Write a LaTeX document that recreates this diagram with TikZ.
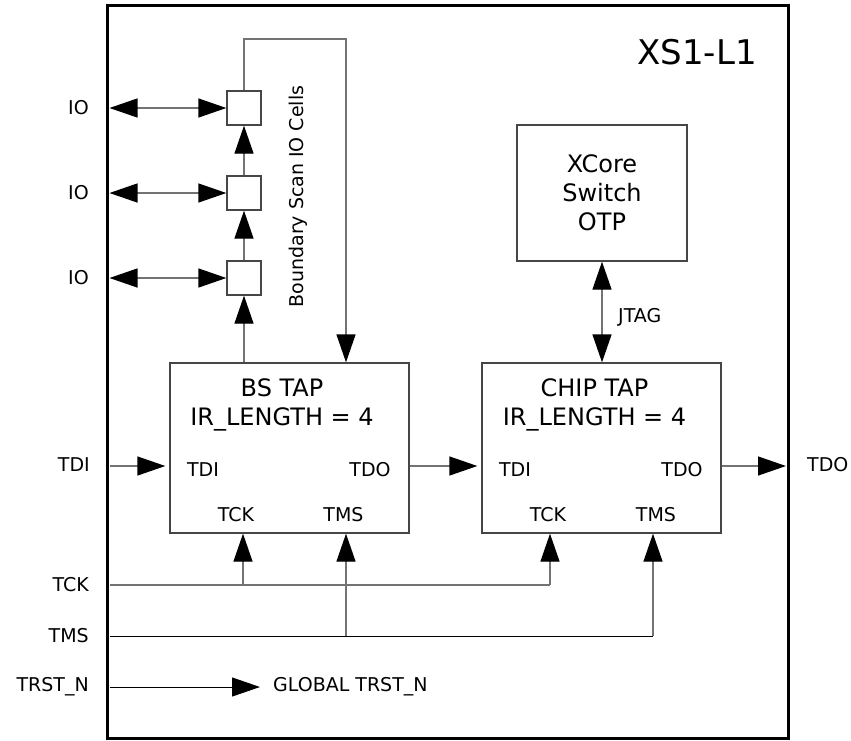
\documentclass[tikz,border=0pt]{standalone}
\usepackage{fontspec}
\setmainfont{DejaVu Sans}
\usetikzlibrary{arrows.meta}
\definecolor{linegray}{RGB}{115,115,115}
\definecolor{boxgray}{RGB}{70,70,70}
\begin{document}
\begin{tikzpicture}[x=1pt,y=-1pt,
  >={Triangle[length=28pt,width=19pt,color=black]},
  conn/.style={draw=linegray, line width=1.3pt},
  dark/.style={draw=black, line width=1pt},
  box/.style={draw=boxgray, line width=1.3pt, fill=white, inner sep=0},
  cell/.style={box, minimum size=34pt},
  lbl/.style={font=\fontsize{19}{23}\selectfont, inner sep=0},
  titletext/.style={font=\fontsize{24}{29}\selectfont, align=center, inner sep=0}]
\useasboundingbox (0,0) rectangle (851,740);
% outer chip
\node[draw, line width=3pt, minimum width=681pt, minimum height=733pt, inner sep=0] (chip) at (447.5,371.5) {};
\node[anchor=east, inner sep=0, font=\fontsize{34}{40}\selectfont] (name) at (757,52.5) {XS1-L1};
% boxes
\node[box, minimum width=239pt, minimum height=170pt] (bs) at (289.5,448) {};
\node[box, minimum width=239pt, minimum height=170pt] (ct) at (601.5,448) {};
\node[box, minimum width=170pt, minimum height=136pt, align=center, font=\fontsize{24}{29}\selectfont] (xc) at (602,193) {XCore\\Switch\\OTP};
\node[titletext, anchor=north] (bst) at (282,378) {BS TAP\\IR\_LENGTH = 4};
\node[titletext, anchor=north] (ctt) at (594.5,378) {CHIP TAP\\IR\_LENGTH = 4};
% port labels inside boxes
\node[lbl] (bstdi) at (203,470) {TDI};
\node[lbl] (bstdo) at (370,470) {TDO};
\node[lbl] (bstck) at (236,515) {TCK};
\node[lbl] (bstms) at (343.5,515) {TMS};
\node[lbl] (cttdi) at (515,470) {TDI};
\node[lbl] (cttdo) at (682,470) {TDO};
\node[lbl] (cttck) at (548,515) {TCK};
\node[lbl] (cttms) at (656,515) {TMS};
% IO cells
\node[cell] (c1) at (244,108) {};
\node[cell] (c2) at (244,193) {};
\node[cell] (c3) at (244,278) {};
\node[lbl, rotate=90] (bsio) at (298.5,196.5) {Boundary Scan IO Cells};
% external labels
\node[lbl, anchor=east] (io1l) at (89,108) {IO};
\node[lbl, anchor=east] (io2l) at (89,193) {IO};
\node[lbl, anchor=east] (io3l) at (89,278) {IO};
\node[lbl, anchor=east] (tdil) at (90,465) {TDI};
\node[lbl, anchor=east] (tckl) at (89,585) {TCK};
\node[lbl, anchor=east] (tmsl) at (89,636) {TMS};
\node[lbl, anchor=east] (trstl) at (89,687) {TRST\_N};
\node[lbl, anchor=west] (tdol) at (807,465) {TDO};
\node[lbl, anchor=west] (glob) at (273,687) {GLOBAL TRST\_N};
\node[lbl, anchor=west] (jtag) at (618,317) {JTAG};
% coordinates
\coordinate (io1) at (109.5,108);
\coordinate (io2) at (109.5,193);
\coordinate (io3) at (109.5,278);
\coordinate (loop) at (346,39);
\coordinate (tdiin) at (109.5,466);
\coordinate (tdoout) at (786,466);
\coordinate (tckin) at (109.5,585);
\coordinate (tck1) at (243,585);
\coordinate (tck2) at (550,585);
\coordinate (tmsin) at (109.5,636);
\coordinate (tms1) at (346,636);
\coordinate (tms2) at (653,636);
\coordinate (trstin) at (109.5,687);
% IO connectors
\draw[conn,<->] (io1) -- (c1.west);
\draw[conn,<->] (io2) -- (c2.west);
\draw[conn,<->] (io3) -- (c3.west);
\draw[conn,->] (c3.north) -- (c2.south);
\draw[conn,->] (c2.north) -- (c1.south);
\draw[conn,->] (bs.north -| c3) -- (c3.south);
\draw[conn,->] (c1.north) |- (loop) -- (loop |- bs.north);
% data path
\draw[conn,->,shorten >=4pt] (tdiin) -- (tdiin -| bs.west);
\draw[conn,->,shorten >=4pt] (bs.east |- tdiin) -- (tdiin -| ct.west);
\draw[conn,->] (ct.east |- tdiin) -- (tdoout);
\draw[conn,<->] (xc.south) -- (xc.south |- ct.north);
% TCK
\draw[conn] (tckin) -- (tck2);
\draw[conn,->] (tck2) -- (tck2 |- ct.south);
\draw[conn,->] (tck1) -- (tck1 |- bs.south);
% TMS
\draw[dark] (tmsin) -- (tms2);
\draw[conn,->] (tms2) -- (tms2 |- ct.south);
\draw[conn,->] (tms1) -- (tms1 |- bs.south);
% TRST
\draw[dark,->,shorten >=13pt] (trstin) -- (glob.west);
\end{tikzpicture}
\end{document}
